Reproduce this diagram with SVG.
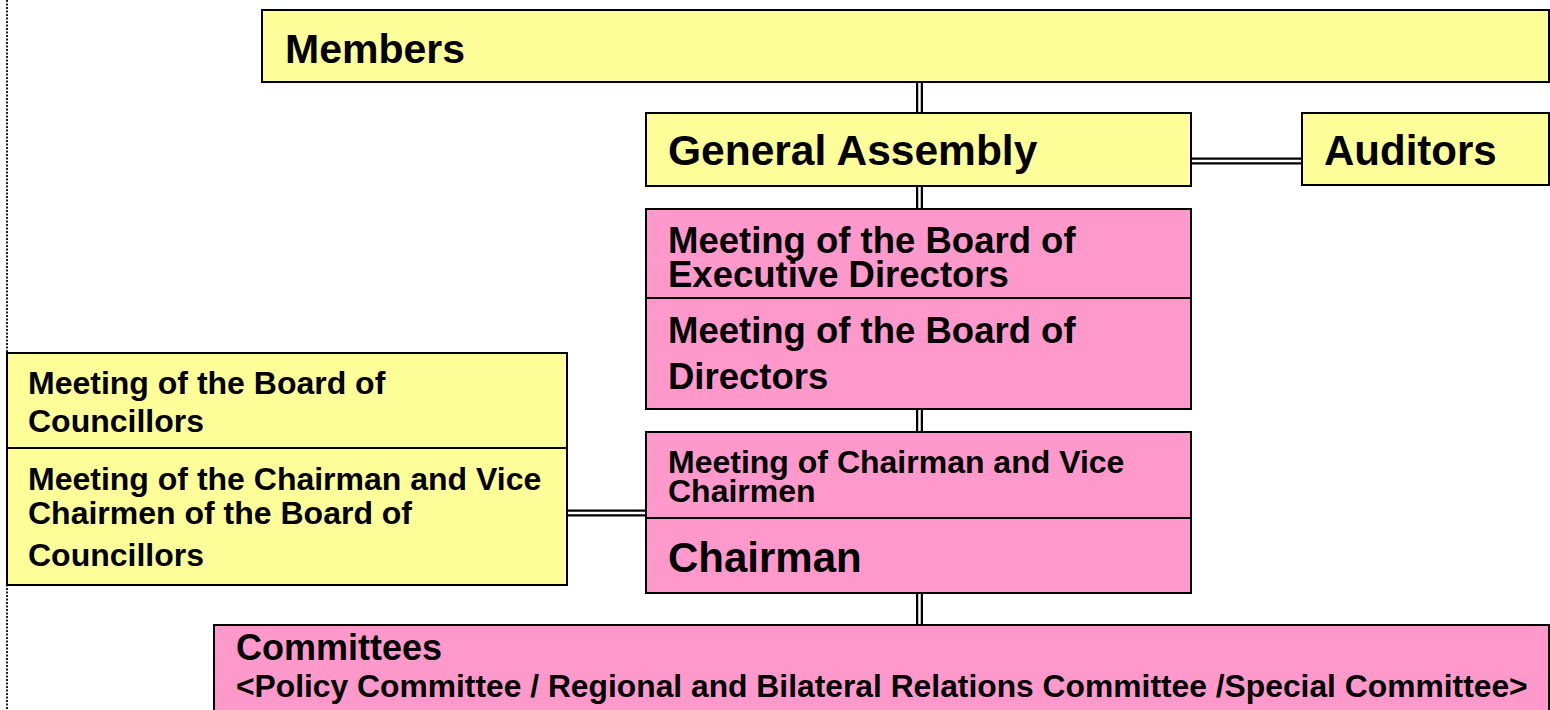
<svg xmlns="http://www.w3.org/2000/svg" width="1550" height="710" viewBox="0 0 1550 710">
<style>
.y{fill:#FFFF99;stroke:#000;stroke-width:2}
.p{fill:#FF99CC;stroke:#000;stroke-width:2}
.div{stroke:#000;stroke-width:2}
text{font-family:"Liberation Sans",Arial,sans-serif;font-weight:bold;fill:#000}
.outer{stroke:#000;stroke-width:7;fill:none}
.inner{stroke:#fff;stroke-width:2.5;fill:none}
</style>
<rect width="1550" height="710" fill="#fff"/>
<line x1="7" y1="0" x2="7" y2="710" stroke="#222" stroke-width="2" stroke-dasharray="2 1.5"/>
<g id="connectors">
<line class="outer" x1="919.5" y1="80" x2="919.5" y2="627"/>
<line class="inner" x1="919.5" y1="80" x2="919.5" y2="627"/>
<line class="outer" x1="1189" y1="161" x2="1304" y2="161"/>
<line class="inner" x1="1189" y1="161" x2="1304" y2="161"/>
<line class="outer" x1="565" y1="513" x2="648" y2="513"/>
<line class="inner" x1="565" y1="513" x2="648" y2="513"/>
</g>
<g id="members">
<rect class="y" x="262" y="10" width="1287" height="72"/>
<text x="285" y="63" font-size="41">Members</text>
</g>
<g id="general-assembly">
<rect class="y" x="646" y="113" width="545" height="73"/>
<text x="668" y="165" font-size="42.5">General Assembly</text>
</g>
<g id="auditors">
<rect class="y" x="1302" y="113" width="247" height="72"/>
<text x="1324" y="165" font-size="42">Auditors</text>
</g>
<g id="board">
<rect class="p" x="646" y="209" width="545" height="200"/>
<line class="div" x1="646" y1="298" x2="1191" y2="298"/>
<text x="668" y="253" font-size="36.5">Meeting of the Board of</text>
<text x="668" y="287" font-size="36.5">Executive Directors</text>
<text x="668" y="343" font-size="36.5">Meeting of the Board of</text>
<text x="668" y="389" font-size="36.5">Directors</text>
</g>
<g id="chairman">
<rect class="p" x="646" y="432" width="545" height="161"/>
<line class="div" x1="646" y1="518" x2="1191" y2="518"/>
<text x="668" y="473" font-size="32">Meeting of Chairman and Vice</text>
<text x="668" y="502" font-size="32">Chairmen</text>
<text x="668" y="572" font-size="42">Chairman</text>
</g>
<g id="councillors">
<rect class="y" x="7" y="353" width="560" height="232"/>
<line class="div" x1="7" y1="448" x2="567" y2="448"/>
<text x="28" y="394" font-size="32">Meeting of the Board of</text>
<text x="28" y="432" font-size="32">Councillors</text>
<text x="28" y="490" font-size="32">Meeting of the Chairman and Vice</text>
<text x="28" y="524" font-size="32">Chairmen of the Board of</text>
<text x="28" y="566" font-size="32">Councillors</text>
</g>
<g id="committees">
<rect class="p" x="214" y="625" width="1335" height="100"/>
<text x="236" y="660" font-size="36">Committees</text>
<text x="236" y="697" font-size="31.8">&lt;Policy Committee / Regional and Bilateral Relations Committee /Special Committee&gt;</text>
</g>
</svg>
